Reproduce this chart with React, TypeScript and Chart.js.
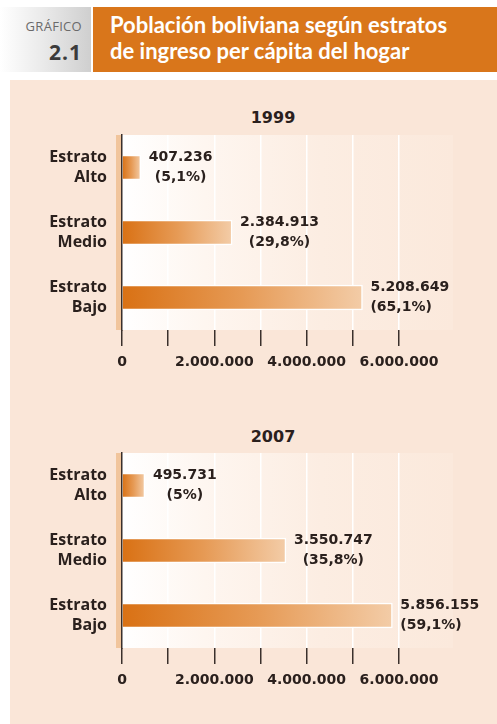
import React, { useEffect, useRef } from 'react';
import { Chart, registerables } from 'chart.js';

Chart.register(...registerables);

// ---- data ----
const categories = [
  ['Estrato', 'Alto'],
  ['Estrato', 'Medio'],
  ['Estrato', 'Bajo'],
];
const values1999 = [407236, 2384913, 5208649];
const pct1999 = [5.1, 29.8, 65.1];
const values2007 = [495731, 3550747, 5856155];
const pct2007 = [5, 35.8, 59.1];
const tickStep = 1000000;
const labelledTicks = [0, 2000000, 4000000, 6000000];
const axisMax = 6000000;
const centeredPct = [true, true, false];

const FONT = '"Open Sans", "Noto Sans", sans-serif';
const NUMFONT = '"DejaVu Sans", "Open Sans", sans-serif';
const TEXT = '#2a201d';
const AXIS = '#3a302c';

const fmtNum = (n: number) => String(n).replace(/\B(?=(\d{3})+(?!\d))/g, '.');
const fmtPct = (n: number) => String(n).replace('.', ',') + '%';

function BarPanel({ values, pcts, top }: { values: number[]; pcts: number[]; top: number }) {
  const ref = useRef<HTMLCanvasElement | null>(null);
  useEffect(() => {
    const canvas = ref.current;
    if (!canvas) return;

    const bgPlugin = {
      id: 'plotBg',
      beforeDraw(chart: any) {
        const { ctx, chartArea } = chart;
        if (!chartArea) return;
        const { left, top, right, bottom } = chartArea;
        const ext = right + 54;
        ctx.save();
        const g = ctx.createLinearGradient(left, 0, ext, 0);
        g.addColorStop(0, '#ffffff');
        g.addColorStop(0.25, '#fef6f0');
        g.addColorStop(0.6, '#fcede2');
        g.addColorStop(1, '#fbe9dc');
        ctx.fillStyle = g;
        ctx.fillRect(left, top, ext - left, bottom - top);
        ctx.fillStyle = '#f1c59c';
        ctx.fillRect(left - 6, top, 6, bottom - top);
        ctx.restore();
      },
    };

    const labelPlugin = {
      id: 'valueLabels',
      afterDatasetsDraw(chart: any) {
        const { ctx } = chart;
        const meta = chart.getDatasetMeta(0);
        ctx.save();
        ctx.font = `bold 14px ${NUMFONT}`;
        ctx.fillStyle = TEXT;
        ctx.textBaseline = 'middle';
        ctx.textAlign = 'left';
        meta.data.forEach((bar: any, i: number) => {
          const l1 = fmtNum(values[i]);
          const l2 = '(' + fmtPct(pcts[i]) + ')';
          const w1 = ctx.measureText(l1).width;
          const w2 = ctx.measureText(l2).width;
          const x = bar.x + 8;
          ctx.fillText(l1, x, bar.y - 10);
          ctx.fillText(l2, centeredPct[i] ? x + (w1 - w2) / 2 : x, bar.y + 10);
        });
        ctx.restore();
      },
    };

    const chart = new Chart(canvas, {
      type: 'bar',
      data: {
        labels: categories as any,
        datasets: [
          {
            data: values,
            backgroundColor: (c: any) => {
              const ch = c.chart;
              const xs = ch.scales && ch.scales.x;
              if (!ch.chartArea || !xs) return '#e08a36';
              const x0 = xs.getPixelForValue(0);
              const x1 = xs.getPixelForValue(c.raw as number);
              const g = ch.ctx.createLinearGradient(x0, 0, x1, 0);
              g.addColorStop(0, '#d97114');
              g.addColorStop(0.5, '#e69a55');
              g.addColorStop(1, '#f3cca7');
              return g;
            },
            borderColor: '#ffffff',
            borderWidth: 1.5,
            barThickness: 25,
          },
        ],
      },
      options: {
        indexAxis: 'y',
        responsive: false,
        maintainAspectRatio: false,
        animation: false,
        layout: { padding: { top: 30, right: 98, left: 0, bottom: 0 } },
        plugins: {
          legend: { display: false },
          tooltip: { enabled: false },
          title: { display: false },
        },
        scales: {
          x: {
            min: 0,
            max: axisMax,
            afterFit: (s: any) => {
              s.height = 50;
            },
            ticks: {
              stepSize: tickStep,
              autoSkip: false,
              maxRotation: 0,
              minRotation: 0,
              padding: 8,
              color: TEXT,
              font: { family: NUMFONT, size: 14, weight: 'bold' },
              callback: (v: any) => (labelledTicks.includes(Number(v)) ? fmtNum(Number(v)) : ''),
            },
            grid: {
              color: (c: any) => (c.tick && c.tick.value === 0 ? 'rgba(0,0,0,0)' : '#ffffff'),
              tickColor: AXIS,
              tickLength: 16,
              lineWidth: 1.5,
              drawTicks: true,
            },
            border: { display: false },
          },
          y: {
            afterFit: (s: any) => {
              s.width = 122;
            },
            ticks: {
              padding: 15,
              color: TEXT,
              font: { family: FONT, size: 16, weight: 'bold', lineHeight: 1.25 },
            },
            grid: { display: false, drawTicks: false },
            border: { display: true, color: AXIS, width: 1.5 },
          },
        },
      } as any,
      plugins: [bgPlugin, labelPlugin],
    });
    return () => chart.destroy();
  }, [values, pcts]);

  return (
    <canvas
      ref={ref}
      width={497}
      height={280}
      style={{ position: 'absolute', left: 0, top, width: 497, height: 280 }}
    />
  );
}

const yearStyle: React.CSSProperties = {
  position: 'absolute',
  left: 223,
  width: 100,
  textAlign: 'center',
  fontFamily: NUMFONT,
  fontSize: 16,
  lineHeight: '22px',
  fontWeight: 700,
  color: TEXT,
};

export default function App() {
  return (
    <div
      style={{
        position: 'absolute',
        left: 0,
        top: 0,
        width: 497,
        height: 724,
        background: '#ffffff',
        overflow: 'hidden',
        fontFamily: FONT,
      }}
    >
      {/* GRÁFICO box */}
      <div
        style={{
          position: 'absolute',
          left: 0,
          top: 7,
          width: 91,
          height: 65,
          background: 'linear-gradient(to right, #ffffff 0%, #ebebeb 45%, #cfcfcf 100%)',
        }}
      >
        <div
          style={{
            position: 'absolute',
            right: 9,
            top: 11,
            fontSize: 13,
            lineHeight: '16px',
            color: '#6a6a6a',
            letterSpacing: 0.3,
          }}
        >
          GRÁFICO
        </div>
        <div
          style={{
            position: 'absolute',
            right: 9,
            top: 32,
            fontSize: 21,
            lineHeight: '26px',
            fontWeight: 700,
            color: '#3b3b3b',
            letterSpacing: 1,
          }}
        >
          2.1
        </div>
      </div>
      {/* Orange header */}
      <div
        style={{
          position: 'absolute',
          left: 93,
          top: 7,
          width: 404,
          height: 65,
          background: '#d9761b',
        }}
      >
        <div
          style={{
            position: 'absolute',
            left: 17,
            top: 5,
            color: '#ffffff',
            fontFamily: 'Lato, sans-serif',
            fontWeight: 700,
            fontSize: 22,
            lineHeight: '26px',
            whiteSpace: 'nowrap',
          }}
        >
          Población boliviana según estratos
          <br />
          de ingreso per cápita del hogar
        </div>
      </div>
      {/* Panel */}
      <div
        style={{
          position: 'absolute',
          left: 10,
          top: 80,
          width: 487,
          height: 644,
          background: '#fae6d8',
        }}
      />
      <div style={{ ...yearStyle, top: 107 }}>1999</div>
      <BarPanel values={values1999} pcts={pct1999} top={100} />
      <div style={{ ...yearStyle, top: 426 }}>2007</div>
      <BarPanel values={values2007} pcts={pct2007} top={418} />
    </div>
  );
}
